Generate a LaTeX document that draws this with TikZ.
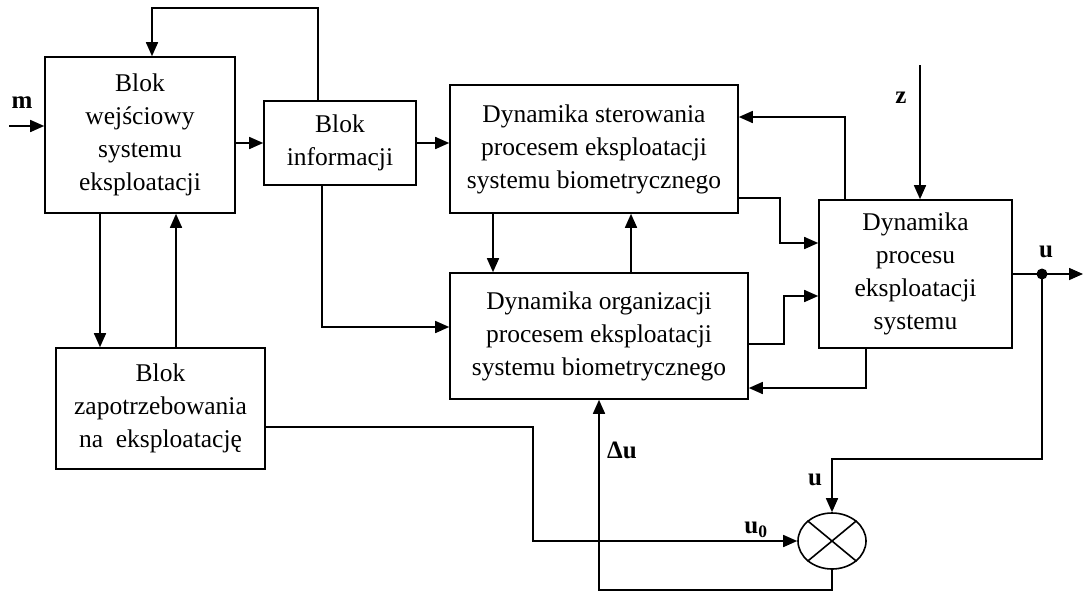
\documentclass[tikz,border=0pt]{standalone}
\usepackage{fontspec}
\setmainfont{Liberation Serif}
\usetikzlibrary{arrows.meta,shapes.geometric}
\tikzset{
  blk/.style={draw, line width=1.6pt, align=center, inner sep=0pt, font=\fontsize{25.5}{33}\selectfont},
  arr/.style={line width=1.6pt, -{Triangle[length=14pt,width=12pt]}},
  ln/.style={line width=1.6pt},
  lbl/.style={font=\fontsize{25}{28}\selectfont\bfseries, inner sep=0pt},
}
\begin{document}
\begin{tikzpicture}[x=1pt,y=-1pt]
\useasboundingbox (0,0) rectangle (1083,592);
% blocks
\node[blk, minimum width=190pt, minimum height=156pt] (BW) at (140,135) {Blok\\wejściowy\\systemu\\eksploatacji};
\node[blk, minimum width=152pt, minimum height=84pt] (BI) at (340,143) {Blok\\informacji};
\node[blk, minimum width=288pt, minimum height=128pt] (DS) at (594,149) {Dynamika sterowania\\procesem eksploatacji\\systemu biometrycznego};
\node[blk, minimum width=298pt, minimum height=126pt] (DO) at (599,336) {Dynamika organizacji\\procesem eksploatacji\\systemu biometrycznego};
\node[blk, minimum width=193pt, minimum height=148pt] (DP) at (915.5,274) {Dynamika\\procesu\\eksploatacji\\systemu};
\node[blk, minimum width=209pt, minimum height=121pt] (BZ) at (160.5,408.5) {Blok\\zapotrzebowania\\na\ \ eksploatację};
\node[draw, line width=1.6pt, ellipse, minimum width=68pt, minimum height=56pt, inner sep=0pt] (X) at (832,541) {};
\draw[ln] (X.north east) -- (X.south west);
\draw[ln] (X.north west) -- (X.south east);
\node[circle, fill, minimum size=11pt, inner sep=0pt] (dot) at (1042,274) {};
% labels
\node[lbl] (lm) at (22,103) {m};
\node[lbl] (lz) at (901,98) {z};
\node[lbl] (lu1) at (1046,252) {u};
\node[lbl] (lu2) at (815,480) {u};
\node[lbl] (lu0) at (756,530) {u\textsubscript{0}};
\node[lbl] (ldu) at (622,450) {Δu};
% coordinates
\coordinate (min) at (9,126);
\coordinate (zin) at (920,65);
\coordinate (uend) at (1083,274);
% connectors
\draw[arr] (min) -- (min -| BW.west);
\draw[arr] (BI.west -| BW.east) -- (BI.west);
\draw[arr] (BI.east) -- (BI.east -| DS.west);
\draw[arr] ([xshift=-22pt]BI.north) -- ++(0,-92) -| ([xshift=12pt]BW.north);
\draw[arr] ([xshift=-40pt]BW.south) -- ([xshift=-40pt]BW.south |- BZ.north);
\draw[arr] ([xshift=36pt]BW.south |- BZ.north) -- ([xshift=36pt]BW.south);
\draw[arr] ([yshift=-18.5pt]BZ.east) -- ++(267,0) |- (X.west);
\draw[arr] ([xshift=-18pt]BI.south) |- ([yshift=9pt]DO.west);
\draw[arr] ([xshift=-101pt]DS.south) -- ([xshift=-101pt]DS.south |- DO.north);
\draw[arr] ([xshift=37pt]DS.south |- DO.north) -- ([xshift=37pt]DS.south);
\draw[arr] ([yshift=-49pt]DS.east) -- ++(41,0) |- ([yshift=31pt]DP.west);
\draw[arr] ([yshift=-8pt]DO.east) -- ++(35,0) |- ([yshift=-22pt]DP.west);
\draw[arr] ([xshift=-70.5pt]DP.north) |- ([yshift=32pt]DS.east);
\draw[arr] ([xshift=-49.5pt]DP.south) |- ([yshift=-52pt]DO.east);
\draw[arr] (zin) -- (zin |- DP.north);
\draw[arr] (DP.east) -- (uend);
\draw[arr] (dot.center) -- (dot.center |- 0,459) -| (X.north);
\draw[arr] (X.south) -- ++(0,20) -| (DO.south);
\end{tikzpicture}
\end{document}
